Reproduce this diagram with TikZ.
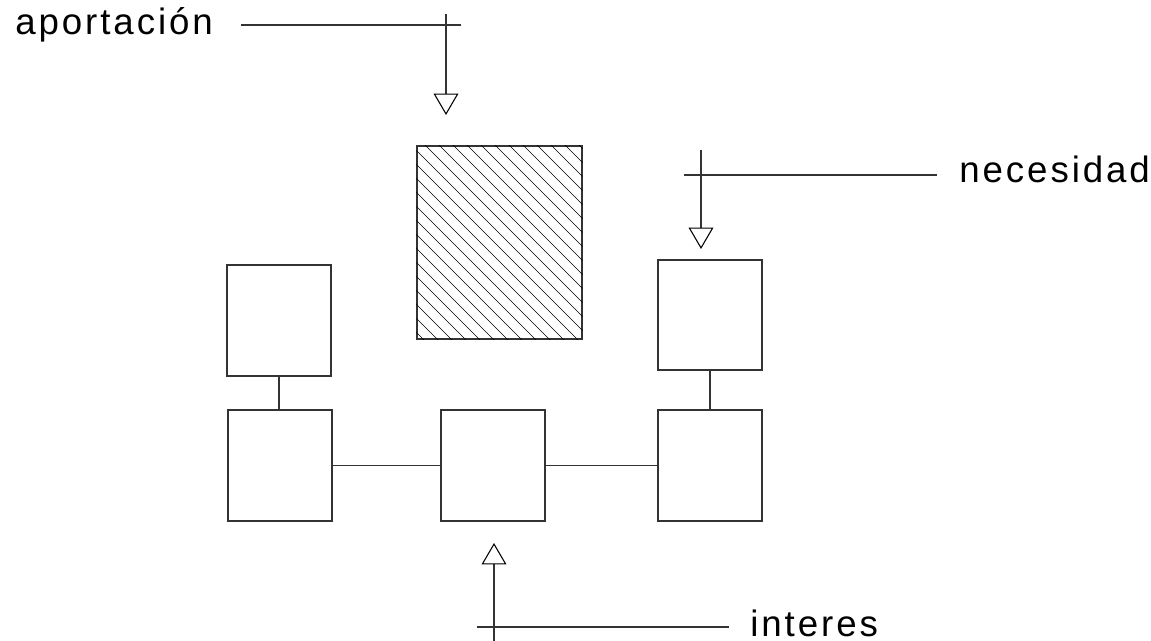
\documentclass[tikz,border=0pt]{standalone}
\usepackage{fontspec}
\usetikzlibrary{arrows.meta}
\newfontfamily\lblfont{Liberation Sans}[LetterSpace=8]
\begin{document}
\begin{tikzpicture}[x=0.75pt,y=-0.75pt,
  ln/.style={draw=black!80,line width=0.9pt},
  box/.style={ln,rectangle,inner sep=0pt,minimum width=78pt,minimum height=83.25pt},
  arr/.style={ln,-{Triangle[open,length=16pt,width=18.5pt,line width=0.8pt,color=black]}},
  lbl/.style={anchor=base west,inner sep=0pt,font=\lblfont\fontsize{27.5}{32}\selectfont},
  hatch/.style={draw=black,line width=0.5pt}]
\useasboundingbox[fill=white] (0,0) rectangle (1151,641);

% boxes
\node[box] (LU) at (279,320.5) {};
\node[box] (LL) at (280,465.5) {};
\node[box] (M)  at (493,465.5) {};
\node[box] (RL) at (710,465.5) {};
\node[box,minimum height=82.5pt] (RU) at (710,315) {};
\node[ln,rectangle,inner sep=0pt,minimum width=123.75pt,minimum height=144.75pt] (H) at (499.5,242.5) {};
\begin{scope}
  \clip (H.south west) rectangle (H.north east);
  \foreach \c in {84,98,...,440} {
    \draw[hatch] (\c+130,130) -- (\c+350,350);
  }
\end{scope}

% connectors
\draw[ln] (LU.south) -- (LU.south |- LL.north);
\draw[ln] (RU.south) -- (RU.south |- RL.north);
\draw[ln] (LL.east) -- (M.west);
\draw[ln] (M.east) -- (RL.west);

% aportacion
\node[lbl] (tA) at (15,35) {aportación};
\coordinate (aH0) at (241,25);
\coordinate (aH1) at (461,25);
\coordinate (aV0) at (446,14);
\coordinate (aV1) at (446,115);
\draw[ln] (aH0) -- (aH1);
\draw[arr] (aV0) -- (aV1);

% necesidad
\node[lbl] (tN) at (959,183) {necesidad};
\coordinate (nH0) at (684,175);
\coordinate (nH1) at (937,175);
\coordinate (nV0) at (701,150);
\coordinate (nV1) at (701,249);
\draw[ln] (nH0) -- (nH1);
\draw[arr] (nV0) -- (nV1);

% interes
\node[lbl] (tI) at (750,636) {interes};
\coordinate (iH0) at (477,627);
\coordinate (iH1) at (729,627);
\coordinate (iV0) at (494,641);
\coordinate (iV1) at (494,543);
\draw[ln] (iH0) -- (iH1);
\draw[arr] (iV0) -- (iV1);
\end{tikzpicture}
\end{document}
